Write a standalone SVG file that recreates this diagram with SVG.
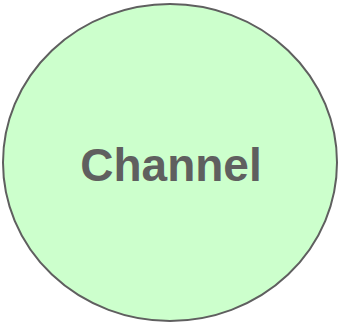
<svg xmlns="http://www.w3.org/2000/svg" width="339" height="323" viewBox="0 0 339 323">
<style>
.node-shape{fill:#ccffcc;stroke:#5f5f5f;stroke-width:2}
.label{font-family:"Liberation Sans",Arial,sans-serif;font-weight:bold;font-size:46px;fill:#5f5f5f;text-anchor:middle}
</style>
<g id="connectors"></g>
<g id="channel">
<ellipse class="node-shape" cx="170" cy="162.5" rx="167" ry="158.5"/>
<text class="label" x="171" y="181">Channel</text>
</g>
</svg>
